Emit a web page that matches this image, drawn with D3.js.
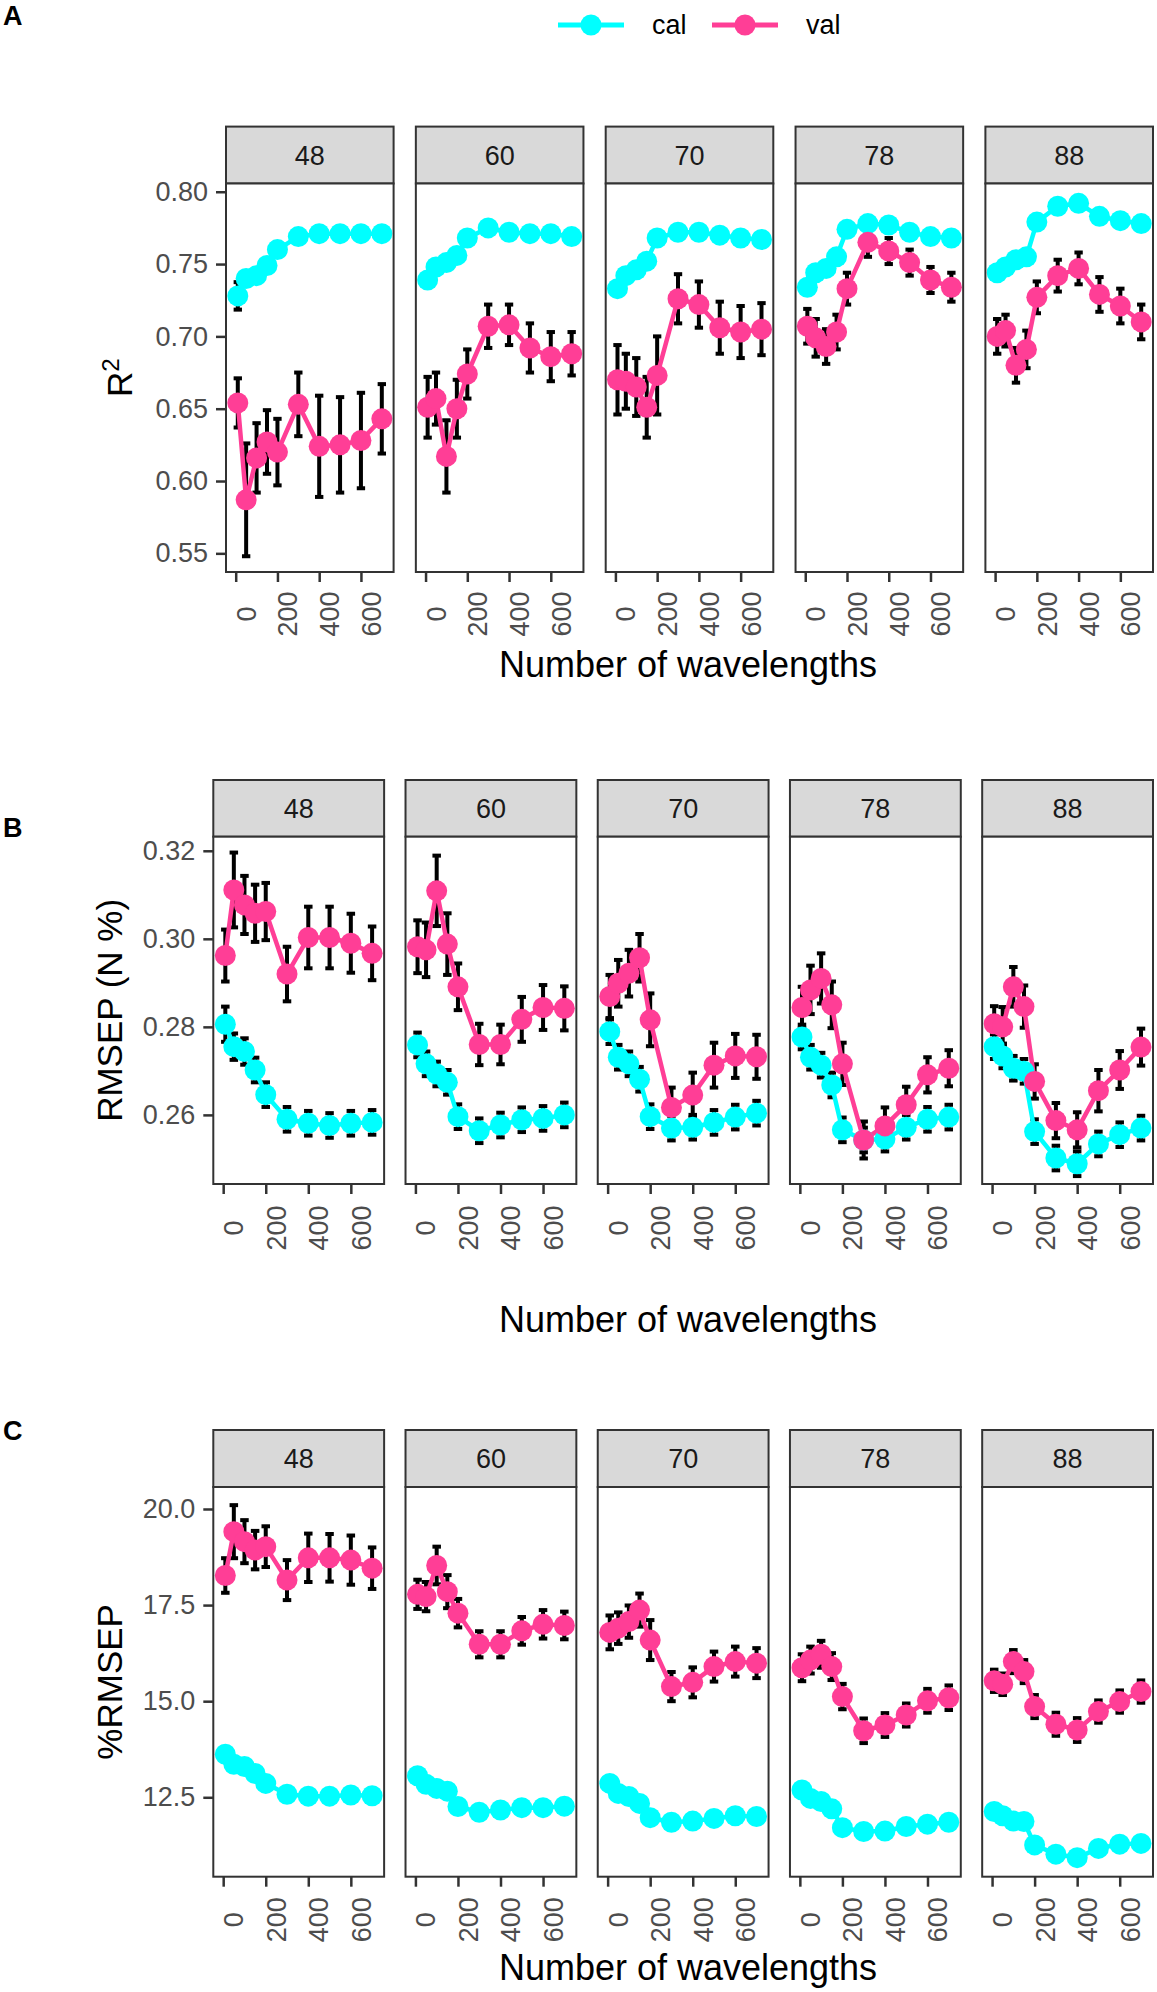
<!DOCTYPE html>
<html>
<head>
<meta charset="utf-8">
<script src="https://cdn.jsdelivr.net/npm/d3@7"></script>
<style>
  body { margin: 0; background: #fff; }
  svg text { font-family: "Liberation Sans", Arial, Helvetica, sans-serif; }
</style>
</head>
<body>
<div id="chart"></div>
<script>
  // ---- data ----
  const wavelengths = [10, 50, 100, 150, 200, 300, 400, 500, 600, 700];
  const facets = ["48", "60", "70", "78", "88"];
  const seriesNames = ["cal", "val"];
  const seriesColors = ["#00FFFF", "#FF3E96"];
  const xTicks = [0, 200, 400, 600];

  // R2
  const r2Ticks = [0.55, 0.60, 0.65, 0.70, 0.75, 0.80];
  const r2Cal = [
    [0.728, 0.740, 0.742, 0.749, 0.760, 0.769, 0.771, 0.771, 0.771, 0.771],
    [0.739, 0.748, 0.751, 0.756, 0.768, 0.775, 0.772, 0.771, 0.771, 0.769],
    [0.733, 0.742, 0.746, 0.752, 0.768, 0.772, 0.772, 0.770, 0.768, 0.767],
    [0.734, 0.744, 0.747, 0.755, 0.774, 0.778, 0.777, 0.772, 0.769, 0.768],
    [0.744, 0.748, 0.753, 0.755, 0.779, 0.790, 0.792, 0.783, 0.780, 0.778]
  ];
  const r2CalErr = [
    [0.0095, 0.004, 0.004, 0.004, 0.004, 0.004, 0.004, 0.004, 0.004, 0.004],
    [0.004, 0.004, 0.004, 0.004, 0.004, 0.004, 0.004, 0.004, 0.004, 0.004],
    [0.004, 0.004, 0.004, 0.004, 0.004, 0.004, 0.004, 0.004, 0.004, 0.004],
    [0.004, 0.004, 0.004, 0.004, 0.004, 0.004, 0.004, 0.004, 0.004, 0.004],
    [0.004, 0.004, 0.004, 0.004, 0.004, 0.004, 0.004, 0.004, 0.004, 0.004]
  ];
  const r2Val = [
    [0.654, 0.587, 0.616, 0.627, 0.620, 0.653, 0.624, 0.625, 0.628, 0.643],
    [0.651, 0.657, 0.617, 0.650, 0.674, 0.707, 0.708, 0.692, 0.686, 0.688],
    [0.670, 0.669, 0.665, 0.651, 0.673, 0.726, 0.722, 0.706, 0.703, 0.705],
    [0.707, 0.699, 0.693, 0.703, 0.733, 0.765, 0.759, 0.751, 0.739, 0.734],
    [0.700, 0.704, 0.680, 0.691, 0.727, 0.742, 0.747, 0.729, 0.721, 0.710]
  ];
  const r2ValErr = [
    [0.017, 0.039, 0.024, 0.022, 0.023, 0.022, 0.035, 0.033, 0.033, 0.024],
    [0.021, 0.018, 0.025, 0.020, 0.017, 0.015, 0.014, 0.017, 0.017, 0.015],
    [0.024, 0.019, 0.020, 0.021, 0.027, 0.017, 0.016, 0.018, 0.018, 0.018],
    [0.012, 0.013, 0.012, 0.012, 0.011, 0.010, 0.009, 0.009, 0.009, 0.010],
    [0.012, 0.011, 0.012, 0.013, 0.011, 0.011, 0.011, 0.012, 0.012, 0.012]
  ];

  // RMSEP (N %)
  const rmsepTicks = [0.26, 0.28, 0.30, 0.32];
  const rmsepCal = [
    [0.2806, 0.2755, 0.2744, 0.2702, 0.2646, 0.2590, 0.2581, 0.2576, 0.2581, 0.2583],
    [0.2759, 0.2716, 0.2693, 0.2674, 0.2596, 0.2564, 0.2577, 0.2589, 0.2592, 0.2600],
    [0.2789, 0.2731, 0.2716, 0.2681, 0.2596, 0.2570, 0.2572, 0.2583, 0.2595, 0.2604],
    [0.2777, 0.2731, 0.2713, 0.2668, 0.2566, 0.2543, 0.2545, 0.2572, 0.2590, 0.2595],
    [0.2755, 0.2734, 0.2706, 0.2699, 0.2562, 0.2502, 0.2489, 0.2534, 0.2555, 0.2570]
  ];
  const rmsepCalErr = [
    [0.0040, 0.0030, 0.0030, 0.0028, 0.0028, 0.0028, 0.0028, 0.0028, 0.0028, 0.0028],
    [0.0028, 0.0028, 0.0028, 0.0028, 0.0028, 0.0028, 0.0028, 0.0028, 0.0028, 0.0028],
    [0.0028, 0.0028, 0.0028, 0.0028, 0.0028, 0.0028, 0.0028, 0.0028, 0.0028, 0.0028],
    [0.0028, 0.0028, 0.0028, 0.0028, 0.0028, 0.0028, 0.0028, 0.0028, 0.0028, 0.0028],
    [0.0028, 0.0028, 0.0028, 0.0028, 0.0028, 0.0028, 0.0028, 0.0028, 0.0028, 0.0028]
  ];
  const rmsepVal = [
    [0.2962, 0.3111, 0.3077, 0.3058, 0.3062, 0.2920, 0.3003, 0.3003, 0.2990, 0.2967],
    [0.2982, 0.2975, 0.3109, 0.2988, 0.2891, 0.2760, 0.2760, 0.2817, 0.2844, 0.2842],
    [0.2869, 0.2899, 0.2922, 0.2957, 0.2816, 0.2617, 0.2645, 0.2713, 0.2734, 0.2732],
    [0.2844, 0.2884, 0.2910, 0.2850, 0.2716, 0.2543, 0.2575, 0.2623, 0.2691, 0.2706],
    [0.2807, 0.2800, 0.2891, 0.2846, 0.2676, 0.2587, 0.2566, 0.2655, 0.2702, 0.2754]
  ];
  const rmsepValErr = [
    [0.0059, 0.0085, 0.0066, 0.0065, 0.0065, 0.0062, 0.0070, 0.0070, 0.0067, 0.0061],
    [0.0060, 0.0062, 0.0080, 0.0070, 0.0053, 0.0047, 0.0045, 0.0051, 0.0051, 0.0050],
    [0.0049, 0.0053, 0.0053, 0.0054, 0.0060, 0.0045, 0.0051, 0.0051, 0.0050, 0.0050],
    [0.0047, 0.0055, 0.0057, 0.0053, 0.0048, 0.0042, 0.0042, 0.0041, 0.0040, 0.0041],
    [0.0040, 0.0045, 0.0045, 0.0048, 0.0039, 0.0040, 0.0040, 0.0047, 0.0043, 0.0042]
  ];

  // %RMSEP
  const pctTicks = [12.5, 15.0, 17.5, 20.0];
  const pctCal = [
    [13.62, 13.36, 13.30, 13.12, 12.86, 12.58, 12.53, 12.53, 12.56, 12.54],
    [13.06, 12.84, 12.73, 12.66, 12.26, 12.11, 12.17, 12.23, 12.23, 12.27],
    [12.86, 12.60, 12.52, 12.34, 11.97, 11.85, 11.88, 11.95, 12.02, 12.00],
    [12.69, 12.47, 12.39, 12.20, 11.71, 11.61, 11.62, 11.74, 11.80, 11.85],
    [12.13, 12.02, 11.88, 11.87, 11.26, 11.02, 10.93, 11.17, 11.28, 11.30]
  ];
  const pctCalErr = [
    [0.15, 0.15, 0.15, 0.15, 0.15, 0.15, 0.15, 0.15, 0.15, 0.15],
    [0.15, 0.15, 0.15, 0.15, 0.15, 0.15, 0.15, 0.15, 0.15, 0.15],
    [0.15, 0.15, 0.15, 0.15, 0.15, 0.15, 0.15, 0.15, 0.15, 0.15],
    [0.15, 0.15, 0.15, 0.15, 0.15, 0.15, 0.15, 0.15, 0.15, 0.15],
    [0.15, 0.15, 0.15, 0.15, 0.15, 0.15, 0.15, 0.15, 0.15, 0.15]
  ];
  const pctVal = [
    [18.27, 19.41, 19.15, 18.93, 19.02, 18.15, 18.73, 18.73, 18.67, 18.46],
    [17.78, 17.72, 18.53, 17.85, 17.29, 16.48, 16.48, 16.83, 17.00, 16.97],
    [16.79, 16.90, 17.07, 17.37, 16.59, 15.38, 15.49, 15.90, 16.03, 15.99],
    [15.87, 16.07, 16.22, 15.90, 15.12, 14.23, 14.38, 14.64, 15.01, 15.09],
    [15.53, 15.44, 16.03, 15.77, 14.86, 14.40, 14.25, 14.73, 14.99, 15.25]
  ];
  const pctValErr = [
    [0.45, 0.69, 0.56, 0.50, 0.53, 0.52, 0.63, 0.62, 0.64, 0.54],
    [0.38, 0.38, 0.49, 0.43, 0.37, 0.34, 0.34, 0.36, 0.37, 0.36],
    [0.44, 0.41, 0.42, 0.43, 0.52, 0.38, 0.39, 0.39, 0.39, 0.39],
    [0.35, 0.35, 0.35, 0.35, 0.33, 0.32, 0.31, 0.30, 0.31, 0.32],
    [0.29, 0.28, 0.30, 0.30, 0.30, 0.30, 0.31, 0.29, 0.29, 0.29]
  ];

  // ---- layout ----
  const W = 1157, H = 1992;
  const xlim = [-46.5, 756.5];
  const errHalf = 20;

  const rows = [
    { tag: "A", tagY: 25, ytitle: "R", ytitleSup: "2", ytitleX: 132,
      series: [[r2Cal, r2CalErr], [r2Val, r2ValErr]], ticks: r2Ticks, fmt: d3.format(".2f"),
      ylim: [0.5371, 0.8057], left: 226, right: 1153, gap: 22.25,
      stripTop: 126.6, panelTop: 183.5, panelBottom: 572, labelOff: 42, xtitleY: 677 },
    { tag: "B", tagY: 837, ytitle: "RMSEP (N %)", ytitleX: 122,
      series: [[rmsepCal, rmsepCalErr], [rmsepVal, rmsepValErr]], ticks: rmsepTicks, fmt: d3.format(".2f"),
      ylim: [0.2443, 0.3232], left: 213.3, right: 1153, gap: 21.4,
      stripTop: 780, panelTop: 836.7, panelBottom: 1184, labelOff: 44, xtitleY: 1332 },
    { tag: "C", tagY: 1440, ytitle: "%RMSEP", ytitleX: 122,
      series: [[pctCal, pctCalErr], [pctVal, pctValErr]], ticks: pctTicks, fmt: d3.format(".1f"),
      ylim: [10.434, 20.572], left: 213.3, right: 1153, gap: 21.4,
      stripTop: 1430, panelTop: 1487, panelBottom: 1876.7, labelOff: 43, xtitleY: 1980 }
  ];

  const svg = d3.select("#chart").append("svg")
    .attr("width", W)
    .attr("height", H)
    .style("background", "#fff");

  // legend
  const legend = svg.append("g").attr("transform", "translate(0,25)");
  const legendX = [558, 712];
  seriesNames.forEach((name, i) => {
    const lg = legend.append("g").attr("transform", "translate(" + legendX[i] + ",0)");
    lg.append("line")
      .attr("x1", 0).attr("x2", 66)
      .attr("stroke", seriesColors[i])
      .attr("stroke-width", 5);
    lg.append("circle")
      .attr("cx", 33).attr("r", 10.5)
      .attr("fill", seriesColors[i]);
    lg.append("text")
      .attr("x", 94).attr("y", 0).attr("dy", "0.35em")
      .attr("font-size", "27px")
      .attr("fill", "#000")
      .text(name);
  });

  const line = (x, y) => d3.line()
    .x(d => x(d[0]))
    .y(d => y(d[1]));

  rows.forEach(row => {
    const nF = facets.length;
    const pw = (row.right - row.left - row.gap * (nF - 1)) / nF;
    const y = d3.scaleLinear().domain(row.ylim).range([row.panelBottom, row.panelTop]);

    // tag letter
    svg.append("text")
      .attr("x", 3).attr("y", row.tagY)
      .attr("font-size", "27px")
      .attr("font-weight", "bold")
      .text(row.tag);

    // y axis title
    const yt = svg.append("text")
      .attr("transform", "translate(" + row.ytitleX + "," + (row.panelTop + row.panelBottom) / 2 + ") rotate(-90)")
      .attr("text-anchor", "middle")
      .attr("font-size", "35px")
      .attr("fill", "#000")
      .text(row.ytitle);
    if (row.ytitleSup) {
      yt.append("tspan")
        .attr("font-size", "24px")
        .attr("dy", "-0.55em")
        .text(row.ytitleSup);
    }

    // x axis title
    svg.append("text")
      .attr("x", 688).attr("y", row.xtitleY)
      .attr("text-anchor", "middle")
      .attr("font-size", "36px")
      .attr("fill", "#000")
      .text("Number of wavelengths");

    facets.forEach((f, i) => {
      const x0 = row.left + i * (pw + row.gap);
      const x = d3.scaleLinear().domain(xlim).range([x0, x0 + pw]);
      const g = svg.append("g");

      // strip
      g.append("rect")
        .attr("x", x0).attr("y", row.stripTop)
        .attr("width", pw).attr("height", row.panelTop - row.stripTop)
        .attr("fill", "#D9D9D9")
        .attr("stroke", "#333333")
        .attr("stroke-width", 2);
      g.append("text")
        .attr("x", x0 + pw / 2)
        .attr("y", (row.stripTop + row.panelTop) / 2)
        .attr("dy", "0.36em")
        .attr("text-anchor", "middle")
        .attr("font-size", "27px")
        .attr("fill", "#1A1A1A")
        .text(f);

      g.append("rect")
        .attr("x", x0).attr("y", row.panelTop)
        .attr("width", pw).attr("height", row.panelBottom - row.panelTop)
        .attr("fill", "#fff");

      // error bars
      row.series.forEach(([vals, errs]) => {
        const eb = g.append("g")
          .attr("stroke", "#000")
          .attr("stroke-width", 4)
          .attr("fill", "none");
        wavelengths.forEach((w, k) => {
          const v = vals[i][k], e = errs[i][k];
          eb.append("line")
            .attr("x1", x(w)).attr("x2", x(w))
            .attr("y1", y(v - e)).attr("y2", y(v + e));
          [v - e, v + e].forEach(c => {
            eb.append("line")
              .attr("x1", x(w - errHalf)).attr("x2", x(w + errHalf))
              .attr("y1", y(c)).attr("y2", y(c));
          });
        });
      });

      // lines
      row.series.forEach(([vals], s) => {
        g.append("path")
          .datum(wavelengths.map((w, k) => [w, vals[i][k]]))
          .attr("d", line(x, y))
          .attr("fill", "none")
          .attr("stroke", seriesColors[s])
          .attr("stroke-width", 4.5);
      });

      // points
      row.series.forEach(([vals], s) => {
        g.selectAll(null)
          .data(wavelengths.map((w, k) => [w, vals[i][k]]))
          .enter().append("circle")
          .attr("cx", d => x(d[0]))
          .attr("cy", d => y(d[1]))
          .attr("r", 10.5)
          .attr("fill", seriesColors[s]);
      });

      // panel border
      g.append("rect")
        .attr("x", x0).attr("y", row.panelTop)
        .attr("width", pw).attr("height", row.panelBottom - row.panelTop)
        .attr("fill", "none")
        .attr("stroke", "#333333")
        .attr("stroke-width", 2);

      // x axis
      const xa = g.append("g")
        .attr("transform", "translate(0," + row.panelBottom + ")")
        .call(d3.axisBottom(x).tickValues(xTicks).tickSize(10).tickFormat(d3.format("d")));
      xa.select(".domain").remove();
      xa.selectAll(".tick line").attr("stroke", "#333333").attr("stroke-width", 2.5);
      xa.selectAll(".tick text")
        .attr("transform", "rotate(-90)")
        .attr("text-anchor", "middle")
        .attr("x", -row.labelOff)
        .attr("y", 0)
        .attr("dy", "0.72em")
        .attr("font-size", "27px")
        .attr("font-family", null)
        .attr("fill", "#4D4D4D");

      // y axis on first facet only
      if (i === 0) {
        const ya = g.append("g")
          .attr("transform", "translate(" + x0 + ",0)")
          .call(d3.axisLeft(y).tickValues(row.ticks).tickSize(10).tickPadding(8).tickFormat(row.fmt));
        ya.select(".domain").remove();
        ya.selectAll(".tick line").attr("stroke", "#333333").attr("stroke-width", 2.5);
        ya.selectAll(".tick text")
          .attr("font-size", "27px")
          .attr("font-family", null)
          .attr("fill", "#4D4D4D");
      }
    });
  });
</script>
</body>
</html>
